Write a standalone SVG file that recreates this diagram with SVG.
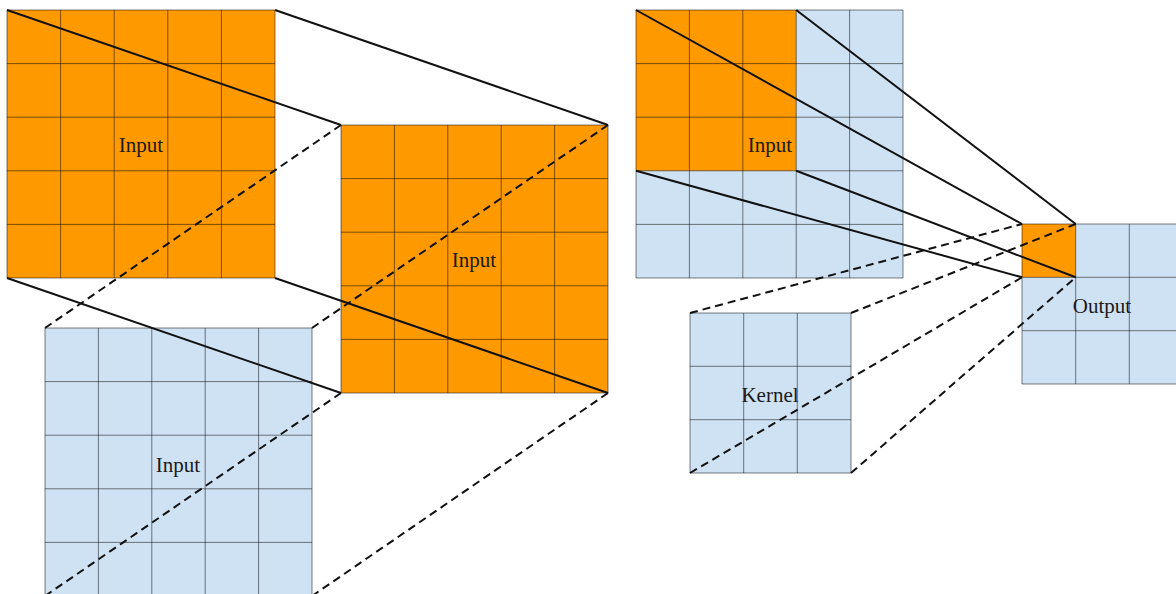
<svg xmlns="http://www.w3.org/2000/svg" width="1176" height="594" viewBox="0 0 1176 594">
  <style>
    .org { fill: #ff9900; }
    .blu { fill: #cfe2f3; }
    .grid { fill: none; stroke: #000; stroke-opacity: 0.5; stroke-width: 1; }
    .lbl { font-family: "Liberation Serif", "Times New Roman", serif; font-size: 21px; fill: #1a1a1a; text-anchor: middle; }
    .solid { stroke: #111; stroke-width: 2; fill: none; }
    .dash { stroke: #111; stroke-width: 2; fill: none; stroke-dasharray: 8 5; }
  </style>
  <rect width="1176" height="594" fill="#fff"/>

  <g id="input-top">
    <rect class="org" x="7" y="10" width="268" height="268"/>
    <path class="grid" d="M7 10H275V278H7Z M60.6 10V278 M114.2 10V278 M167.8 10V278 M221.4 10V278 M7 63.6H275 M7 117.2H275 M7 170.8H275 M7 224.4H275"/>
    <text class="lbl" x="141" y="152">Input</text>
  </g>

  <g id="input-middle">
    <rect class="org" x="341" y="125" width="267" height="268"/>
    <path class="grid" d="M341 125H608V393H341Z M394.4 125V393 M447.8 125V393 M501.2 125V393 M554.6 125V393 M341 178.6H608 M341 232.2H608 M341 285.8H608 M341 339.4H608"/>
    <text class="lbl" x="474" y="267">Input</text>
  </g>

  <g id="input-bottom">
    <rect class="blu" x="45" y="328" width="267" height="268"/>
    <path class="grid" d="M45 328H312V596H45Z M98.4 328V596 M151.8 328V596 M205.2 328V596 M258.6 328V596 M45 381.6H312 M45 435.2H312 M45 488.8H312 M45 542.4H312"/>
    <text class="lbl" x="178" y="472">Input</text>
  </g>

  <g id="input-right">
    <rect class="blu" x="636" y="10" width="267" height="268"/>
    <rect class="org" x="636" y="10" width="160.2" height="160.8"/>
    <path class="grid" d="M636 10H903V278H636Z M689.4 10V278 M742.8 10V278 M796.2 10V278 M849.6 10V278 M636 63.6H903 M636 117.2H903 M636 170.8H903 M636 224.4H903"/>
    <text class="lbl" x="770" y="152">Input</text>
  </g>

  <g id="kernel">
    <rect class="blu" x="690" y="313" width="161" height="160"/>
    <path class="grid" d="M690 313H851V473H690Z M743.7 313V473 M797.3 313V473 M690 366.3H851 M690 419.7H851"/>
    <text class="lbl" x="770" y="402">Kernel</text>
  </g>

  <g id="output">
    <rect class="blu" x="1022" y="224" width="161" height="160"/>
    <rect class="org" x="1022" y="224" width="53.7" height="53.3"/>
    <path class="grid" d="M1022 224H1183V384H1022Z M1075.7 224V384 M1129.3 224V384 M1022 277.3H1183 M1022 330.7H1183"/>
    <text class="lbl" x="1102" y="313">Output</text>
  </g>

  <g id="connectors">
    <line class="solid" x1="7" y1="10" x2="341" y2="125"/>
    <line class="solid" x1="275" y1="10" x2="608" y2="125"/>
    <line class="solid" x1="7" y1="278" x2="341" y2="393"/>
    <line class="solid" x1="275" y1="278" x2="608" y2="393"/>
    <line class="dash" x1="341" y1="125" x2="45" y2="328"/>
    <line class="dash" x1="608" y1="125" x2="312" y2="328"/>
    <line class="dash" x1="341" y1="393" x2="45" y2="596"/>
    <line class="dash" x1="608" y1="393" x2="312" y2="596"/>

    <line class="solid" x1="636" y1="10" x2="1022" y2="224"/>
    <line class="solid" x1="796.2" y1="10" x2="1075.7" y2="224"/>
    <line class="solid" x1="636" y1="170.8" x2="1022" y2="277.3"/>
    <line class="solid" x1="796.2" y1="170.8" x2="1075.7" y2="277.3"/>
    <line class="dash" x1="690" y1="313" x2="1022" y2="224"/>
    <line class="dash" x1="851" y1="313" x2="1075.7" y2="224"/>
    <line class="dash" x1="690" y1="473" x2="1022" y2="277.3"/>
    <line class="dash" x1="851" y1="473" x2="1075.7" y2="277.3"/>
  </g>
</svg>
